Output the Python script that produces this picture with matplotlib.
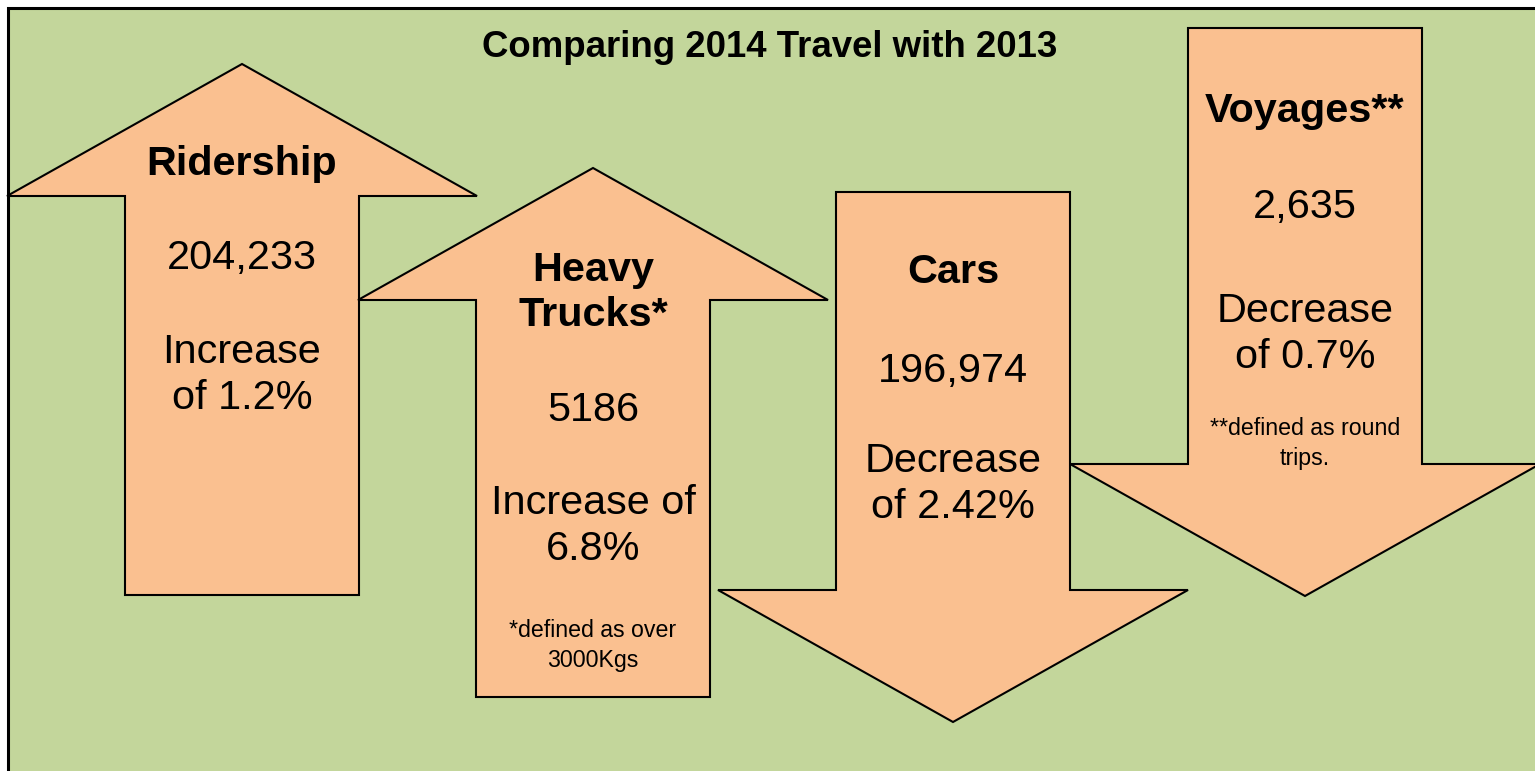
import matplotlib
matplotlib.use("Agg")
import matplotlib.pyplot as plt
from matplotlib.patches import Polygon, Rectangle

# ---- content -------------------------------------------------------------
title = "Comparing 2014 Travel with 2013"
categories = ["Ridership", "Heavy\nTrucks*", "Cars", "Voyages**"]
counts = ["204,233", "5186", "196,974", "2,635"]
pct_change = [1.2, 6.8, -2.42, -0.7]
change_text = ["Increase\nof 1.2%", "Increase of\n6.8%", "Decrease\nof 2.42%", "Decrease\nof 0.7%"]
footnotes = ["", "*defined as over\n3000Kgs", "", "**defined as round\ntrips."]

# ---- layout (pixel units, y grows downward) -------------------------------
W, H = 1535, 771
centers_x = [242, 593, 953, 1305]
tail_y = [595, 697, 192, 28]          # flat end of the shaft
tip_y = [64, 168, 722, 596]           # point of the head
shaft_w, head_w, head_len = 234, 470, 132
label_base = [175, 281, 283, 122]     # baseline of the first label line
count_base = [269, 421, 382, 218]
change_base = [363, 514, 472, 322]
note_base = [None, 637, None, 435]
big_step, small_step = 46, 30

green = "#C3D69B"
orange = "#FAC090"
font = "Liberation Sans"
big_fs, small_fs, title_fs = 29.8, 16.7, 26.4

fig = plt.figure(figsize=(W / 100, H / 100), dpi=100)
ax = fig.add_axes([0, 0, 1, 1])
ax.set_xlim(0, W)
ax.set_ylim(H, 0)
ax.axis("off")

# panel background with its frame
ax.add_patch(Rectangle((8, 8), W + 20, H + 20, facecolor=green,
                       edgecolor="black", linewidth=2.2, zorder=0))


def arrow_points(cx, tail, tip):
    d = 1 if tip < tail else -1   # +1 points up, -1 points down
    base = tip + d * head_len
    hs, hh = shaft_w / 2, head_w / 2
    return [(cx - hs, tail), (cx - hs, base), (cx - hh, base), (cx, tip),
            (cx + hh, base), (cx + hs, base), (cx + hs, tail)]


def lines(text, x, y0, step, **kw):
    for i, ln in enumerate(text.split("\n")):
        ax.text(x, y0 + i * step, ln, ha="center", va="baseline",
                family=font, color="black", **kw)


for i, cat in enumerate(categories):
    cx = centers_x[i]
    # direction follows the sign of the change
    tip = tip_y[i]
    if (pct_change[i] > 0) != (tip < tail_y[i]):
        tip = 2 * tail_y[i] - tip
    ax.add_patch(Polygon(arrow_points(cx, tail_y[i], tip), closed=True,
                         facecolor=orange, edgecolor="black",
                         linewidth=1.5, joinstyle="miter", zorder=2 + i))
    z = 10
    lines(cat, cx, label_base[i], 45, fontsize=big_fs, fontweight="bold", zorder=z)
    lines(counts[i], cx, count_base[i], big_step, fontsize=big_fs, zorder=z)
    lines(change_text[i], cx, change_base[i], big_step, fontsize=big_fs, zorder=z)
    if footnotes[i]:
        lines(footnotes[i], cx, note_base[i], small_step, fontsize=small_fs, zorder=z)

ax.text(770, 57, title, ha="center", va="baseline", family=font,
        fontsize=title_fs, fontweight="bold", zorder=20)

fig.savefig("out.png", dpi=100, facecolor="white")
